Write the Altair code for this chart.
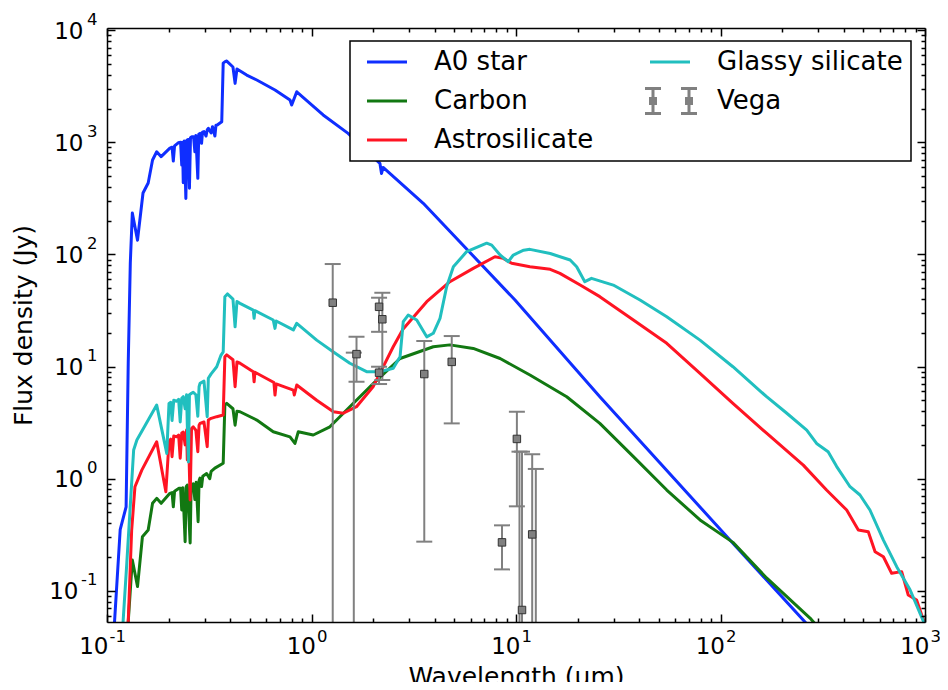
import altair as alt
import pandas as pd

FONT = "DejaVu Sans"
W, H = 818, 594

# ---------------- data (wavelength in micron, flux density in Jy) ----------------
a0_wl = [0.105, 0.109, 0.116, 0.124, 0.127, 0.130, 0.133, 0.141, 0.150, 0.159, 0.167, 0.175, 0.184,
         0.203, 0.208, 0.211, 0.214, 0.223, 0.229, 0.232, 0.234, 0.236, 0.239, 0.243, 0.246, 0.250,
         0.253, 0.256, 0.260, 0.265, 0.269, 0.272, 0.278, 0.281, 0.285, 0.290, 0.293, 0.298, 0.305,
         0.309, 0.313, 0.323, 0.328, 0.337, 0.341, 0.346, 0.364, 0.370, 0.378, 0.385, 0.413, 0.423,
         0.432, 0.482, 0.540, 0.663, 0.785, 0.800, 0.847, 1.14, 1.51, 2.16, 2.20, 2.24, 3.52, 9.89,
         25.7, 115, 259, 755]
a0_f = [0.02, 0.055, 0.35, 0.56, 10.7, 84, 234, 134, 353, 434, 695, 824, 745,
        889, 905, 681, 930, 991, 1000, 627, 1000, 436, 1030, 316, 1047, 1060,
        389, 1100, 1122, 1120, 824, 1150, 477, 1180, 1202, 980, 1230, 1245, 1138,
        1290, 1334, 1211, 1380, 1138, 1420, 1426, 1528, 5093, 5250, 5311, 4700, 3357,
        4510, 3981, 3597, 2931, 2389, 2153, 2825, 1754, 1202, 650, 528, 597, 286, 39.2,
        5.38, 0.265, 0.0526, 0.0061]

carbon_wl = [0.125, 0.127, 0.133, 0.141, 0.149, 0.159, 0.167, 0.175, 0.184, 0.203, 0.208, 0.211,
             0.214, 0.225, 0.229, 0.232, 0.235, 0.241, 0.244, 0.247, 0.251, 0.255, 0.258, 0.264,
             0.269, 0.273, 0.279, 0.282, 0.285, 0.290, 0.294, 0.307, 0.318, 0.323, 0.337, 0.370,
             0.377, 0.385, 0.413, 0.423, 0.432, 0.447, 0.540, 0.650, 0.785, 0.830, 0.862, 1.02,
             1.23, 1.54, 2.01, 2.71, 3.94, 4.75, 6.18, 8.36, 11.7, 17.7, 25.7, 37.5, 54.6, 79.4,
             115, 168, 274, 755]
carbon_f = [0.03, 0.0529, 0.188, 0.109, 0.303, 0.348, 0.602, 0.667, 0.602, 0.739, 0.75, 0.561,
            0.77, 0.819, 0.82, 0.525, 0.83, 0.274, 0.85, 0.877, 0.5, 0.267, 0.88, 0.9,
            0.65, 0.93, 0.413, 0.96, 1.01, 0.85, 1.05, 1.11, 1.0, 1.16, 1.24, 1.37,
            4.53, 4.69, 4.2, 3.00, 4.0, 3.95, 3.33, 2.62, 2.36, 2.06, 2.62, 2.45,
            2.90, 4.38, 7.08, 11.8, 15.0, 15.6, 14.5, 11.8, 8.40, 5.38, 3.11, 1.57, 0.791, 0.428,
            0.27, 0.13, 0.057, 0.0070]

astro_wl = [0.125, 0.127, 0.132, 0.137, 0.148, 0.175, 0.194, 0.201, 0.205, 0.208, 0.212, 0.219,
            0.224, 0.228, 0.232, 0.236, 0.241, 0.245, 0.247, 0.250, 0.255, 0.259, 0.264, 0.272,
            0.278, 0.282, 0.285, 0.298, 0.309, 0.313, 0.323, 0.344, 0.370, 0.377, 0.385, 0.413,
            0.423, 0.432, 0.447, 0.519, 0.524, 0.529, 0.655, 0.663, 0.672, 0.815, 0.824, 0.847,
            1.06, 1.28, 1.43, 1.66, 2.0, 2.20, 2.51, 2.80, 3.66, 4.75, 6.18, 7.89, 8.67, 9.53,
            11.7, 14.7, 16.4, 20.6, 25.7, 37.5, 54.6, 79.4, 115, 168, 254, 330, 414, 472, 528,
            570, 626, 687, 769, 828, 910, 982, 1000]
astro_f = [0.03, 0.0529, 0.348, 0.847, 1.19, 2.13, 0.764, 2.13, 2.25, 1.57, 2.4, 2.36,
           2.45, 1.52, 2.55, 2.6, 2.0, 2.71, 1.47, 2.65, 0.644, 2.8, 2.90, 2.7,
           1.74, 3.0, 3.11, 3.2, 1.93, 3.33, 3.45, 3.57, 3.69, 12.2, 12.7, 11.5,
           6.61, 11.0, 10.7, 8.99, 7.3, 8.9, 7.2, 5.57, 7.0, 6.17, 5.57, 6.84,
           5.0, 3.95, 3.83, 4.38, 6.6, 9.3, 15.0, 21.5, 37.9, 57.1, 75.1, 95.3, 92.2, 83.3,
           77.6, 73.6, 67.8, 53.3, 42.0, 26.0, 16.1, 8.70, 4.70, 2.54, 1.32, 0.791, 0.525, 0.348, 0.336,
           0.223, 0.201, 0.143, 0.148, 0.0916, 0.0826, 0.0548, 0.045]

glassy_wl = [0.118, 0.120, 0.125, 0.135, 0.140, 0.175, 0.196, 0.201, 0.205, 0.208, 0.212, 0.219,
             0.224, 0.228, 0.232, 0.236, 0.241, 0.245, 0.247, 0.250, 0.253, 0.259, 0.264, 0.272,
             0.278, 0.282, 0.285, 0.298, 0.309, 0.313, 0.323, 0.344, 0.360, 0.370, 0.377, 0.388,
             0.413, 0.423, 0.432, 0.447, 0.519, 0.524, 0.529, 0.650, 0.663, 0.672, 0.815, 0.847,
             1.06, 1.28, 1.54, 1.86, 2.16, 2.51, 2.71, 2.81, 2.97, 3.27, 3.66, 3.94, 4.25, 4.58,
             4.94, 5.74, 7.19, 7.61, 8.36, 9.17, 9.70, 10.9, 11.7, 14.7, 18.4, 19.8, 21.7, 23.4,
             29.9, 40.4, 54.6, 79.4, 115, 168, 211, 264, 295, 336, 370, 430, 481, 538, 626, 727,
             845, 946, 1000]
glassy_f = [0.03, 0.0548, 0.177, 1.80, 2.21, 4.53, 1.68, 4.69, 4.8, 3.3, 5.0, 4.9,
            5.1, 3.2, 5.2, 5.38, 4.2, 5.6, 3.0, 1.41, 5.6, 5.77, 5.9, 5.6,
            3.6, 6.6, 7.08, 7.4, 3.57, 7.85, 8.6, 9.96, 12.5, 13.5, 42.0, 44.4,
            40.0, 22.6, 38.0, 36.6, 31.9, 26.9, 31.5, 26.0, 21.9, 25.5, 21.2, 24.3,
            17.2, 13.5, 10.7, 8.99, 8.99, 9.64, 12.2, 25.1, 28.8, 26.0, 18.4, 19.8, 26.9, 51.5,
            77.6, 106, 126, 121, 98.8, 86.1, 98.8, 109, 111, 102, 89.1, 77.6, 57.1, 61.2,
            53.3, 39.2, 27.8, 17.2, 9.96, 5.38, 3.83, 2.71, 2.06, 1.74, 1.28, 0.847, 0.714, 0.525, 0.283, 0.164,
            0.102, 0.0629, 0.0494]

vega_wl = [1.27, 1.61, 1.66, 2.14, 2.14, 2.22, 3.56, 4.85, 8.54, 10.1, 10.4, 10.7, 12.0, 12.5]
vega_f = [37.1, 0.03, 12.9, 34.1, 8.81, 26.4, 8.57, 11.0, 0.270, 2.26, 0.03, 0.0673, 0.318, 0.03]
vega_lo = [0.001, 0.001, 7.32, 20.4, 6.98, 7.58, 0.274, 3.11, 0.155, 0.566, 0.001, 0.001, 0.001, 0.001]
vega_hi = [82.1, 13.3, 18.4, 41.1, 9.96, 45.5, 16.9, 18.7, 0.383, 3.95, 1.74, 1.74, 1.65, 1.22]

x_major = [0.1, 1, 10, 100, 1000]
x_exps = ["-1", "0", "1", "2", "3"]
y_major = [0.1, 1, 10, 100, 1000, 10000]
y_exps = ["-1", "0", "1", "2", "3", "4"]
X_DOMAIN = [0.1, 1000]
Y_DOMAIN = [0.0526, 10470]

BLUE, GREEN, RED, CYAN, GRAY = "#0f2eff", "#127812", "#ff1423", "#21bfbf", "#808080"

# ---------------- scales / axes ----------------
x_ticks = sorted(set(x_major + [k * 10.0 ** e for e in range(-1, 3) for k in range(2, 10)]))
y_ticks = [v for v in sorted(set(y_major + [k * 10.0 ** e for e in range(-2, 4) for k in range(2, 10)]))
           if Y_DOMAIN[0] <= v <= Y_DOMAIN[1]]

xscale = alt.Scale(type="log", domain=X_DOMAIN, nice=False)
yscale = alt.Scale(type="log", domain=Y_DOMAIN, nice=False)


def exp_expr(majors, exps):
    expr = "'" + exps[-1] + "'"
    for m, e in reversed(list(zip(majors[:-1], exps[:-1]))):
        expr = "datum.value < %g ? '%s' : " % (m * 3.1623, e) + expr
    return expr


MAJOR = "abs(log(datum.value)/LN10 - round(log(datum.value)/LN10)) < 0.01"
NEG = "datum.value < 0.5"
tick_size = {"condition": {"test": MAJOR, "value": 8}, "value": 4}
common = dict(grid=False, zindex=1)

x_base = alt.Axis(orient="bottom", values=x_major, labelExpr="'10'", ticks=False, domain=True,
                  domainColor="black", domainWidth=1.5, labelFont=FONT, labelFontSize=23,
                  labelColor="black", labelAlign="right", labelBaseline="alphabetic",
                  labelPadding=31, labelOffset={"condition": {"test": NEG, "value": 1}, "value": 4},
                  labelFlush=False, labelOverlap=False, title="Wavelength (\u03bcm)",
                  titleFont=FONT, titleFontSize=25, titleFontWeight="normal", titleColor="black",
                  titleX=W / 2, titleY=62, titleBaseline="alphabetic", titleAlign="center", **common)
x_exp = alt.Axis(orient="bottom", values=x_major, labelExpr=exp_expr(x_major, x_exps), ticks=False,
                 domain=False, labelFont=FONT, labelFontSize=16.5, labelColor="black",
                 labelAlign="left", labelBaseline="alphabetic", labelPadding=19,
                 labelOffset={"condition": {"test": NEG, "value": 2}, "value": 5},
                 labelFlush=False, labelOverlap=False, title=None, **common)
x_in_bottom = alt.Axis(orient="top", offset=-H, values=x_ticks, labels=False, domain=False,
                       tickSize=tick_size, tickColor="black", tickWidth=1.5, title=None, **common)
x_in_top = alt.Axis(orient="bottom", offset=-H, values=x_ticks, labels=False, domain=True,
                    domainColor="black", domainWidth=1.5,
                    tickSize=tick_size, tickColor="black", tickWidth=1.5, title=None, **common)

y_base = alt.Axis(orient="left", values=y_major, labelExpr="'10'", ticks=False, domain=True,
                  domainColor="black", domainWidth=1.5, labelFont=FONT, labelFontSize=23,
                  labelColor="black", labelAlign="right", labelBaseline="alphabetic", labelOffset=8,
                  labelPadding={"condition": {"test": NEG, "value": 29}, "value": 24},
                  labelFlush=False, labelOverlap=False, title="Flux density (Jy)",
                  titleFont=FONT, titleFontSize=25, titleFontWeight="normal", titleColor="black",
                  titleX=-76, titleY=H / 2, titleAngle=270, titleBaseline="alphabetic",
                  titleAlign="center", **common)
y_exp = alt.Axis(orient="left", values=y_major, labelExpr=exp_expr(y_major, y_exps), ticks=False,
                 domain=False, labelFont=FONT, labelFontSize=16.5, labelColor="black",
                 labelAlign="right", labelBaseline="alphabetic", labelOffset=-6, labelPadding=10,
                 labelFlush=False, labelOverlap=False, title=None, **common)
y_in_left = alt.Axis(orient="right", offset=-W, values=y_ticks, labels=False, domain=False,
                     tickSize=tick_size, tickColor="black", tickWidth=1.5, title=None, **common)
y_in_right = alt.Axis(orient="left", offset=-W, values=y_ticks, labels=False, domain=True,
                      domainColor="black", domainWidth=1.5,
                      tickSize=tick_size, tickColor="black", tickWidth=1.5, title=None, **common)


def line_layer(wl, f, color, xa, ya):
    df = pd.DataFrame({"wl": wl, "f": f, "i": list(range(len(wl)))})
    return alt.Chart(df).mark_line(color=color, strokeWidth=3, clip=True, strokeJoin="round").encode(
        x=alt.X("wl:Q", scale=xscale, axis=xa),
        y=alt.Y("f:Q", scale=yscale, axis=ya),
        order=alt.Order("i:Q"),
    )


blue = line_layer(a0_wl, a0_f, BLUE, x_base, y_base)
green = line_layer(carbon_wl, carbon_f, GREEN, x_exp, y_exp)
red = line_layer(astro_wl, astro_f, RED, x_in_bottom, y_in_left)
cyan = line_layer(glassy_wl, glassy_f, CYAN, x_in_top, y_in_right)

vega_df = pd.DataFrame({"wl": vega_wl, "f": vega_f, "lo": vega_lo, "hi": vega_hi})
rules = alt.Chart(vega_df).mark_rule(color=GRAY, strokeWidth=2, clip=True).encode(
    x=alt.X("wl:Q", scale=xscale, axis=None),
    y=alt.Y("lo:Q", scale=yscale, axis=None),
    y2="hi:Q",
)
caps = alt.Chart(vega_df).transform_fold(["lo", "hi"], as_=["k", "v"]).mark_tick(
    orient="horizontal", size=16, thickness=2, color=GRAY, clip=True, opacity=1).encode(
    x=alt.X("wl:Q", scale=xscale, axis=None),
    y=alt.Y("v:Q", scale=yscale, axis=None),
)
squares = alt.Chart(vega_df).mark_square(size=56, filled=True, fill=GRAY, stroke="#333333",
                                         strokeWidth=1, opacity=1, clip=True).encode(
    x=alt.X("wl:Q", scale=xscale, axis=None),
    y=alt.Y("f:Q", scale=yscale, axis=None),
)

# ---------------- legend ----------------
def bar_path(cx):
    return ("M{a},-1.25L{a},1.25M{l},-1.25L{r},-1.25M{l},1.25L{r},1.25"
            "M{sl},-0.25L{sr},-0.25L{sr},0.25L{sl},0.25ZM{sl},0L{sr},0").format(
        a=round(cx, 3), l=round(cx - 0.8, 3), r=round(cx + 0.8, 3),
        sl=round(cx - 0.25, 3), sr=round(cx + 0.25, 3))


LINE_SYM = "M-0.4,0L3.6,0"
VEGA_SYM = bar_path(-0.1) + bar_path(3.5)
legend_order = ["A0 star", "Carbon", "Astrosilicate", "Glassy silicate", "Vega"]
legend_colors = [BLUE, GREEN, RED, CYAN, GRAY]
legend_shapes = [LINE_SYM, LINE_SYM, LINE_SYM, LINE_SYM, VEGA_SYM]

leg_kw = dict(orient="none", legendX=243, legendY=13, columns=2, title=None, padding=8,
              rowPadding=7, columnPadding=45, labelOffset=50, labelFont=FONT, labelFontSize=26,
              labelColor="black", labelLimit=400, symbolSize=400, symbolStrokeWidth=3,
              symbolOpacity=1, strokeColor="black", fillColor="white", cornerRadius=0, zindex=2)
leg_df = pd.DataFrame({"series": legend_order, "wl": [0.001] * 5, "f": [1.0] * 5})
legend_layer = alt.Chart(leg_df).mark_point(filled=False, opacity=1, strokeWidth=3, clip=True).encode(
    x=alt.X("wl:Q", scale=xscale, axis=None),
    y=alt.Y("f:Q", scale=yscale, axis=None),
    color=alt.Color("series:N", scale=alt.Scale(domain=legend_order, range=legend_colors),
                    legend=alt.Legend(**leg_kw)),
    shape=alt.Shape("series:N", scale=alt.Scale(domain=legend_order, range=legend_shapes),
                    legend=alt.Legend(**leg_kw)),
)

chart = (
    alt.layer(blue, green, red, cyan, rules, caps, squares, legend_layer)
    .resolve_axis(x="independent", y="independent")
    .properties(width=W, height=H, autosize=alt.AutoSizeParams(type="none"),
                padding={"left": 99, "top": 20, "right": 15, "bottom": 60})
    .configure_view(strokeWidth=0)
    .configure_legend(strokeWidth=1.5)
)

chart.save("out.html", embed_options={"renderer": "svg", "actions": False})
